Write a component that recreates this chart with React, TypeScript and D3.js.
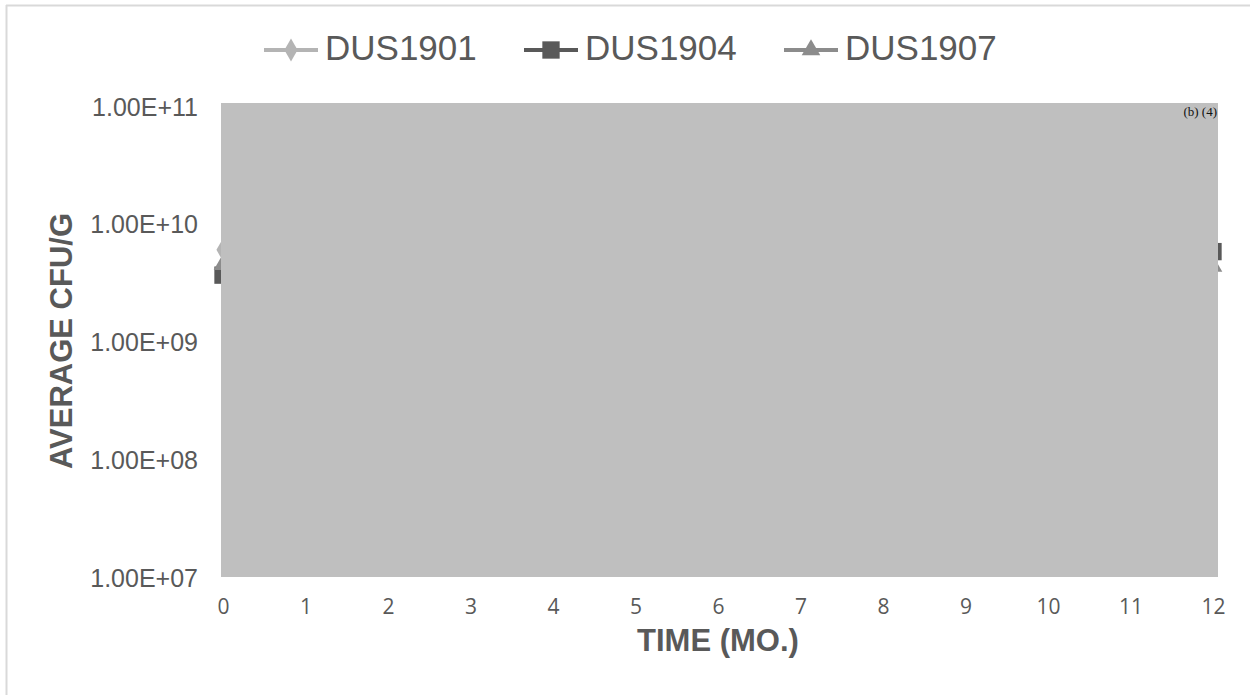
import React from "react";
import { select, scaleLinear, scaleLog, line, symbol, symbolDiamond, symbolSquare, symbolTriangle, axisLeft, axisBottom } from "d3";

// months on the x axis
const months = [0, 12];
const xTicks = [0, 1, 2, 3, 4, 5, 6, 7, 8, 9, 10, 11, 12];
const yTicks = [1e7, 1e8, 1e9, 1e10, 1e11];

// average CFU/g per lot (only the end points are visible in the source)
const dus1901 = [6.0e9, 5.5e9];
const dus1904 = [3.66e9, 5.8e9];
const dus1907 = [4.5e9, 4.35e9];

const seriesNames = ["DUS1901", "DUS1904", "DUS1907"];

const W = 1250;
const H = 695;

const App = () => {
  const svgRef = React.useRef<SVGSVGElement>(null);

  React.useEffect(() => {
    const svg = select(svgRef.current);
    svg.selectAll("*").remove();

    const series = [
      { name: seriesNames[0], values: dus1901, color: "#B4B4B4", shape: symbolDiamond, size: 150 },
      { name: seriesNames[1], values: dus1904, color: "#595959", shape: symbolSquare, size: 300 },
      { name: seriesNames[2], values: dus1907, color: "#8C8C8C", shape: symbolTriangle, size: 150 },
    ];

    const x = scaleLinear().domain([0, 12]).range([223, 1213]);
    const y = scaleLog().domain([1e7, 1e11]).range([577, 106]);

    // outer frame
    svg.append("line").attr("x1", 6.5).attr("x2", 6.5).attr("y1", 5).attr("y2", H)
      .attr("stroke", "#D9D9D9").attr("stroke-width", 2);
    svg.append("line").attr("x1", 6).attr("x2", W).attr("y1", 5.5).attr("y2", 5.5)
      .attr("stroke", "#D9D9D9").attr("stroke-width", 2);

    // series
    const lineGen = line<number>()
      .x((_, i) => x(months[i]))
      .y((d) => y(d));

    series.forEach((s) => {
      const g = svg.append("g");
      g.append("path")
        .datum(s.values)
        .attr("d", lineGen)
        .attr("fill", "none")
        .attr("stroke", s.color)
        .attr("stroke-width", 4);
      g.selectAll("path.m")
        .data(s.values)
        .join("path")
        .attr("class", "m")
        .attr("transform", (d, i) => `translate(${x(months[i])},${y(d)})`)
        .attr("d", symbol(s.shape, s.size)())
        .attr("fill", s.color);
    });

    // grey block over plot area
    svg.append("rect")
      .attr("x", 221).attr("y", 103)
      .attr("width", 1218 - 221).attr("height", 577 - 103)
      .attr("fill", "#BFBFBF");

    svg.append("text")
      .attr("x", 1217).attr("y", 116)
      .attr("text-anchor", "end")
      .attr("font-family", "'Liberation Serif', 'DejaVu Serif', serif")
      .attr("font-size", 13)
      .attr("fill", "#111")
      .text("(b) (4)");

    // y axis
    const yAxis = svg.append("g")
      .attr("transform", "translate(198,1)")
      .call(
        axisLeft(y)
          .tickValues(yTicks)
          .tickSize(0)
          .tickPadding(0)
          .tickFormat((d) => `1.00E+${String(Math.round(Math.log10(+d))).padStart(2, "0")}`)
      );
    yAxis.select(".domain").remove();
    yAxis.selectAll("text")
      .attr("font-family", "'Liberation Sans', Arial, sans-serif")
      .attr("font-size", 25)
      .attr("fill", "#595959");

    // x axis
    const xAxis = svg.append("g")
      .attr("transform", "translate(0,599)")
      .call(axisBottom(x).tickValues(xTicks).tickSize(0).tickPadding(0));
    xAxis.select(".domain").remove();
    xAxis.selectAll("text")
      .attr("font-family", "'Open Sans', sans-serif")
      .attr("font-size", 21)
      .attr("fill", "#595959");

    // axis titles
    svg.append("text")
      .attr("transform", "translate(72,341) rotate(-90)")
      .attr("text-anchor", "middle")
      .attr("font-family", "'Liberation Sans', Arial, sans-serif")
      .attr("font-weight", "bold")
      .attr("font-size", 31)
      .attr("fill", "#595959")
      .text("AVERAGE CFU/G");

    svg.append("text")
      .attr("x", 718).attr("y", 651)
      .attr("text-anchor", "middle")
      .attr("font-family", "'Liberation Sans', Arial, sans-serif")
      .attr("font-weight", "bold")
      .attr("font-size", 31)
      .attr("fill", "#595959")
      .text("TIME (MO.)");

    // legend
    const legendX = [264, 524, 784];
    series.forEach((s, i) => {
      const g = svg.append("g").attr("transform", `translate(${legendX[i]},50)`);
      g.append("line").attr("x1", 0).attr("x2", 54).attr("y1", 0).attr("y2", 0)
        .attr("stroke", s.color).attr("stroke-width", 4);
      g.append("path")
        .attr("transform", "translate(27,0)")
        .attr("d", symbol(s.shape, s.size)())
        .attr("fill", s.color);
      g.append("text")
        .attr("x", 61).attr("y", 10)
        .attr("font-family", "'Liberation Sans', Arial, sans-serif")
        .attr("font-size", 35)
        .attr("fill", "#595959")
        .text(s.name);
    });

    return () => {
      svg.selectAll("*").remove();
    };
  }, []);

  return (
    <svg
      ref={svgRef}
      width={W}
      height={H}
      style={{ position: "absolute", left: 0, top: 0, background: "#fff" }}
    />
  );
};

export default App;
